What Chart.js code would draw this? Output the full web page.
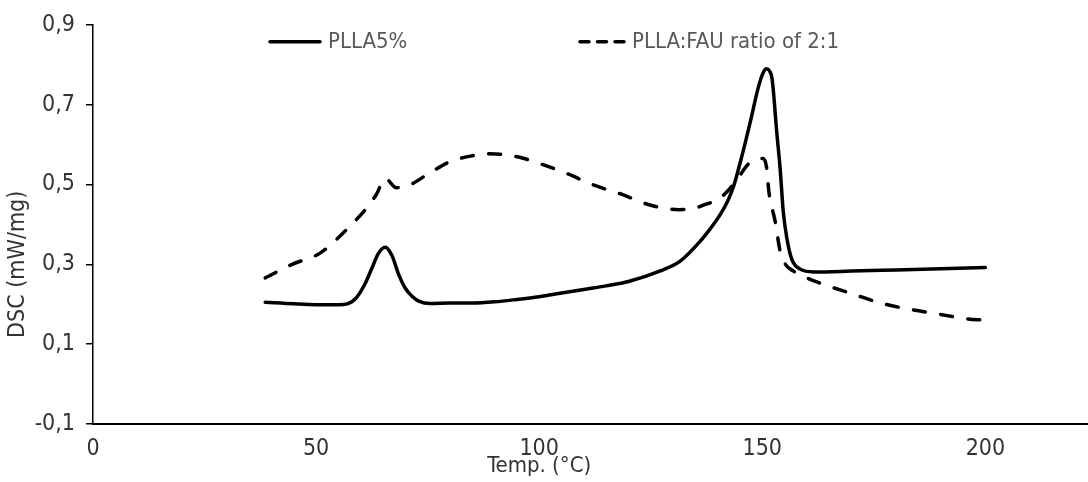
<!DOCTYPE html>
<html>
<head>
<meta charset="utf-8">
<script src="https://cdn.jsdelivr.net/npm/chart.js@4.4.1/dist/chart.umd.min.js"></script>
<style>
  html, body { margin: 0; padding: 0; background: #fff; }
  #wrap { width: 1088px; height: 482px; position: relative; }
</style>
</head>
<body>
<div id="wrap"><canvas id="c" width="1088" height="482"></canvas></div>
<script>
// ---- Data ----
const seriesNames = ['PLLA5%', 'PLLA:FAU ratio of 2:1'];

const plla5Temp = [38.6, 45, 50, 55, 57, 59, 61, 62.5, 64, 65.5, 67, 68.5, 70, 71.5, 73, 75.6, 80, 85, 90, 95, 100, 105, 110, 115, 120, 127, 131.6, 136.1, 138.4, 140.6, 142.3, 143.7, 145.1, 146.3, 147.3, 149.2, 150.2, 150.9, 151.6, 152.2, 153.3, 154, 154.7, 155.5, 156.6, 158.5, 161.5, 170, 180, 190, 200];
const plla5Dsc  = [0.205, 0.201, 0.199, 0.199, 0.201, 0.216, 0.252, 0.290, 0.328, 0.343, 0.322, 0.275, 0.240, 0.220, 0.208, 0.202, 0.203, 0.203, 0.206, 0.212, 0.219, 0.228, 0.237, 0.246, 0.257, 0.283, 0.308, 0.358, 0.390, 0.425, 0.460, 0.500, 0.557, 0.610, 0.656, 0.747, 0.780, 0.790, 0.785, 0.764, 0.624, 0.540, 0.432, 0.366, 0.313, 0.288, 0.281, 0.283, 0.286, 0.289, 0.292];

const fauTemp = [38.6, 44.6, 50.9, 56, 61, 63.5, 65.5, 68, 71, 75.6, 80, 85, 88, 92, 96, 100.2, 106.3, 112.1, 118.6, 124.4, 131.2, 134, 137.2, 140, 142.1, 144.5, 146.6, 148, 150.2, 151, 151.5, 152.9, 154, 155.2, 157, 159.2, 163.7, 170.2, 176.5, 182.7, 189.2, 195.5, 200];
const fauDsc  = [0.266, 0.300, 0.328, 0.378, 0.437, 0.475, 0.515, 0.492, 0.499, 0.530, 0.557, 0.572, 0.577, 0.575, 0.567, 0.552, 0.527, 0.499, 0.475, 0.450, 0.437, 0.438, 0.450, 0.462, 0.482, 0.515, 0.548, 0.561, 0.565, 0.540, 0.480, 0.407, 0.333, 0.300, 0.283, 0.270, 0.250, 0.226, 0.203, 0.188, 0.176, 0.164, 0.160];

const xTickValues = [0, 50, 100, 150, 200];
const yTickValues = [-0.1, 0.1, 0.3, 0.5, 0.7, 0.9];

const xAxisTitle = 'Temp. (°C)';
const yAxisTitle = 'DSC (mW/mg)';

// ---- Chart ----
const FONT = '"DejaVu Sans Condensed", "Liberation Sans Narrow", sans-serif';

const toPoints = (xs, ys) => xs.map((x, i) => ({ x: x, y: ys[i] }));

// Legend inside the plot area + axis titles, placed relative to the library's scales
const annotations = {
  id: 'annotations',
  afterDraw(chart, args, opts) {
    const { ctx, chartArea, scales } = chart;
    ctx.save();
    // legend
    chart.data.datasets.forEach((ds, i) => {
      const x0 = chartArea.left + opts.legendStarts[i];
      const y = chartArea.top + opts.legendOffsetY;
      const w = opts.sampleWidths[i];
      ctx.beginPath();
      ctx.strokeStyle = ds.borderColor;
      ctx.lineWidth = ds.borderWidth;
      ctx.lineCap = ds.borderCapStyle || 'butt';
      ctx.setLineDash(ds.borderDash ? opts.legendDash : []);
      ctx.moveTo(x0, y);
      ctx.lineTo(x0 + w, y);
      ctx.stroke();
      ctx.setLineDash([]);
      ctx.fillStyle = opts.legendColor;
      ctx.font = opts.legendFont;
      ctx.textBaseline = 'middle';
      ctx.textAlign = 'left';
      ctx.fillText(ds.label, x0 + w + opts.legendGap, y);
    });
    // x axis title
    ctx.fillStyle = opts.titleColor;
    ctx.font = opts.xTitleFont;
    ctx.textAlign = 'center';
    ctx.textBaseline = 'middle';
    ctx.fillText(xAxisTitle, scales.x.getPixelForValue(opts.xTitleAt), opts.xTitleY);
    // y axis title
    ctx.font = opts.yTitleFont;
    ctx.translate(opts.yTitleX, scales.y.getPixelForValue(opts.yTitleAt));
    ctx.rotate(-Math.PI / 2);
    ctx.fillText(yAxisTitle, 0, 0);
    ctx.restore();
  }
};

new Chart(document.getElementById('c'), {
  type: 'line',
  data: {
    datasets: [
      {
        label: seriesNames[0],
        data: toPoints(plla5Temp, plla5Dsc),
        borderColor: '#000',
        borderWidth: 3.5,
        pointRadius: 0,
        cubicInterpolationMode: 'monotone',
        borderCapStyle: 'round',
        borderJoinStyle: 'round',
        fill: false
      },
      {
        label: seriesNames[1],
        data: toPoints(fauTemp, fauDsc),
        borderColor: '#000',
        borderWidth: 3.5,
        borderDash: [12, 15.5],
        borderCapStyle: 'round',
        borderJoinStyle: 'round',
        pointRadius: 0,
        cubicInterpolationMode: 'monotone',
        fill: false
      }
    ]
  },
  options: {
    responsive: false,
    animation: false,
    events: [],
    layout: { padding: { top: 22, right: 0, left: 0, bottom: 0 } },
    plugins: {
      legend: { display: false },
      tooltip: { enabled: false },
      annotations: {
        legendStarts: [177, 487],
        sampleWidths: [50, 44],
        legendDash: [9, 8.5],
        legendGap: 8,
        legendOffsetY: 17,
        legendColor: '#595959',
        legendFont: '22px ' + FONT,
        titleColor: '#333',
        xTitleFont: '22px ' + FONT,
        yTitleFont: '23px ' + FONT,
        xTitleAt: 100,
        xTitleY: 466,
        yTitleAt: 0.3,
        yTitleX: 18
      }
    },
    scales: {
      x: {
        type: 'linear',
        min: 0,
        max: 223,
        afterFit(scale) { scale.height = 58; },
        afterBuildTicks(scale) { scale.ticks = xTickValues.map(v => ({ value: v })); },
        ticks: {
          color: '#333',
          font: { family: FONT, size: 23 },
          padding: 11,
          maxRotation: 0,
          autoSkip: false,
          callback: v => String(v)
        },
        grid: { display: false, drawTicks: false },
        border: { display: true, color: '#000', width: 2 },
        title: { display: false, text: xAxisTitle }
      },
      y: {
        type: 'linear',
        min: -0.1,
        max: 0.9,
        afterFit(scale) { scale.width = 93; },
        afterBuildTicks(scale) { scale.ticks = yTickValues.map(v => ({ value: v })); },
        ticks: {
          color: '#333',
          font: { family: FONT, size: 23 },
          padding: 11,
          autoSkip: false,
          callback: v => v.toFixed(1).replace('.', ',')
        },
        grid: { display: true, drawOnChartArea: false, drawTicks: true, tickLength: 7, color: '#000', lineWidth: 1.5 },
        border: { display: true, color: '#000', width: 1.5 },
        title: { display: false, text: yAxisTitle }
      }
    }
  },
  plugins: [annotations]
});
</script>
</body>
</html>
